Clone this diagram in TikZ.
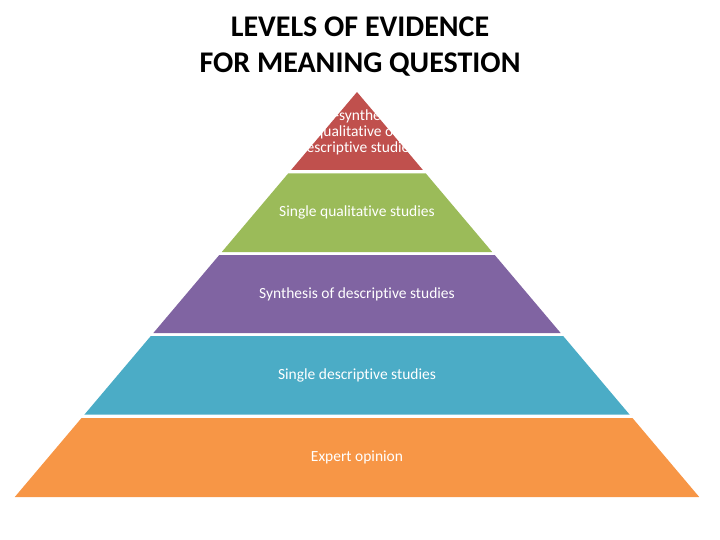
\documentclass[tikz,border=0pt]{standalone}
\usepackage{fontspec}
\setmainfont{Carlito}[RawFeature={-liga}]
\definecolor{lvlred}{HTML}{C0504D}
\definecolor{lvlgreen}{HTML}{9BBB59}
\definecolor{lvlpurple}{HTML}{8064A2}
\definecolor{lvlblue}{HTML}{4BACC6}
\definecolor{lvlorange}{HTML}{F79646}
\begin{document}
\begin{tikzpicture}[x=1pt,y=-1pt,
  lvltext/.style={text=white,font=\fontsize{15.5}{16}\selectfont,align=center},
  titletext/.style={font=\fontsize{30}{36}\selectfont\bfseries,align=center}]
  \useasboundingbox (0,0) rectangle (720,540);
  % title
  \node[titletext] (title) at (360,47) {LEVELS OF EVIDENCE\\FOR MEANING QUESTION};

  % pyramid layers: top, bottom, colour
  \foreach \t/\b/\c in {92/170/lvlred,173.5/252/lvlgreen,255/333/lvlpurple,
    336/414.5/lvlblue,418/497/lvlorange}
  {
    \pgfmathsetmacro{\wt}{0.845*(\t-92)}
    \pgfmathsetmacro{\wb}{0.845*(\b-92)}
    \fill[\c] (357-\wt,\t) -- (357+\wt,\t) -- (357+\wb,\b) -- (357-\wb,\b) -- cycle;
  }

  % labels
  \node[lvltext] (meta) at (357,132) {Meta-synthesis of\\qualitative or\\descriptive studies};
  \node[lvltext] (squal) at (357,212.5) {Single qualitative studies};
  \node[lvltext] (sdesc) at (357,294) {Synthesis of descriptive studies};
  \node[lvltext] (desc) at (357,375) {Single descriptive studies};
  \node[lvltext] (expert) at (357,457.5) {Expert opinion};
\end{tikzpicture}
\end{document}
